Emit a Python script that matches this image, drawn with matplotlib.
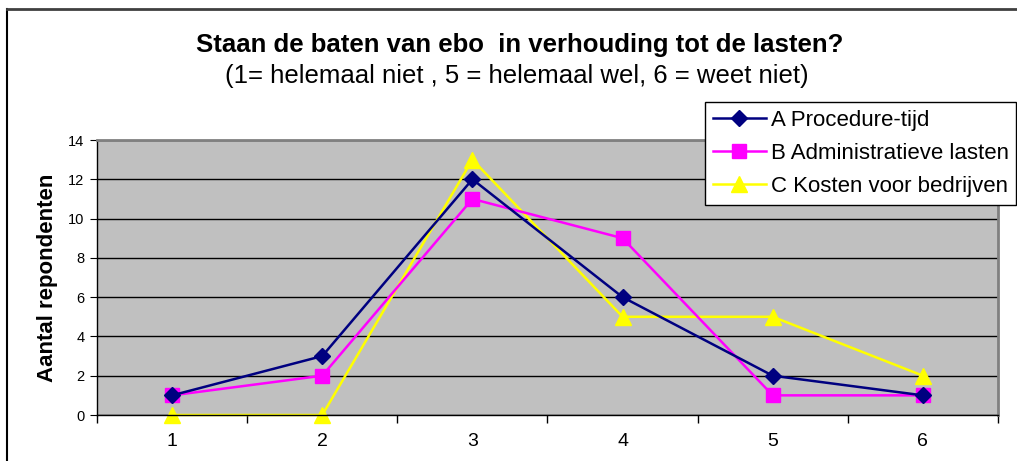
import matplotlib.pyplot as plt
from matplotlib.lines import Line2D

plt.rcParams['font.family'] = ['Liberation Sans', 'DejaVu Sans']

categories = [1, 2, 3, 4, 5, 6]
procedure_tijd = [1, 3, 12, 6, 2, 1]
admin_lasten = [1, 2, 11, 9, 1, 1]
kosten_bedrijven = [0, 0, 13, 5, 5, 2]
labels = ['A Procedure-tijd', 'B Administratieve lasten', 'C Kosten voor bedrijven']

W, H = 1017, 461
fig = plt.figure(figsize=(W / 100, H / 100), dpi=100)
ax = fig.add_axes([97 / W, 1 - 415 / H, (998 - 97) / W, (415 - 140) / H])
ax.set_facecolor('#C0C0C0')

ax.plot(categories, procedure_tijd, color='#000080', lw=1.8, marker='D', ms=8, label=labels[0], zorder=4)
ax.plot(categories, admin_lasten, color='#FF00FF', lw=1.8, marker='s', ms=10, label=labels[1], zorder=3)
ax.plot(categories, kosten_bedrijven, color='#FFFF00', lw=1.8, marker='^', ms=11, label=labels[2], zorder=2, clip_on=False)

ax.set_xlim(0.5, 6.5)
ax.set_ylim(0, 14)
ax.set_yticks(range(0, 15, 2))
ax.yaxis.grid(True, color='black', lw=1)
ax.set_axisbelow(True)
ax.set_xticks([i + 0.5 for i in range(0, 7)])
ax.set_xticklabels([])
ax.set_xticks(categories, minor=True)
ax.set_xticklabels([str(c) for c in categories], minor=True, fontsize=14)
ax.tick_params(axis='x', which='minor', length=0, pad=13)
ax.tick_params(axis='x', which='major', length=6, direction='out', width=1)
ax.tick_params(axis='y', length=5, direction='out', labelsize=10.5, pad=4)
for s in ['top', 'right']:
    ax.spines[s].set_color('#808080')
    ax.spines[s].set_linewidth(2)
for s in ['left', 'bottom']:
    ax.spines[s].set_color('black')
    ax.spines[s].set_linewidth(1)

ax.set_ylabel('Aantal repondenten', fontsize=16, fontweight='bold', labelpad=7)

fig.text(520 / W, 1 - 45 / H, 'Staan de baten van ebo  in verhouding tot de lasten?',
         ha='center', va='center', fontsize=18.5, fontweight='bold')
fig.text(517 / W, 1 - 76 / H, '(1= helemaal niet , 5 = helemaal wel, 6 = weet niet)',
         ha='center', va='center', fontsize=18.5)

leg = fig.legend(loc='upper left', bbox_to_anchor=(705 / W, 1 - 102 / H), fontsize=16,
                 frameon=True, fancybox=False, edgecolor='black', framealpha=1,
                 borderpad=0.35, labelspacing=0.55, handlelength=2.4, handletextpad=0.2,
                 borderaxespad=0)
leg.get_frame().set_linewidth(1)

fig.add_artist(Line2D([7 / W, 7 / W], [0, 1 - 9 / H], color='black', lw=1.5))
fig.add_artist(Line2D([7 / W, 1], [1 - 9 / H, 1 - 9 / H], color='#404040', lw=2))

fig.savefig('out.png', dpi=100)
